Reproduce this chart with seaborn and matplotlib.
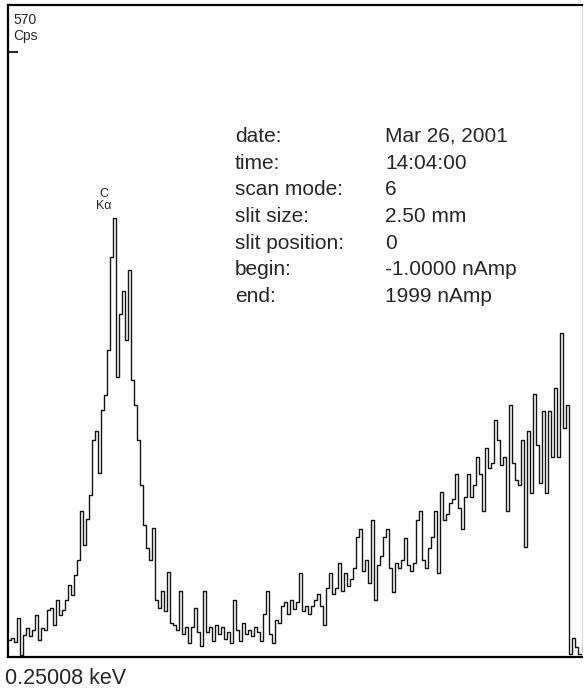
import matplotlib
matplotlib.use("Agg")
import matplotlib.pyplot as plt
import numpy as np
import pandas as pd
import seaborn as sns

# ---- data (counts per channel, Cps) ----
counts = [
    15, 17, 13, 34, 2, 19, 25, 18, 24, 37,
    15, 25, 24, 41, 43, 28, 50, 37, 41, 50,
    63, 54, 72, 85, 128, 98, 121, 142, 190, 198,
    161, 216, 229, 268, 350, 384, 245, 300, 320, 277,
    338, 242, 220, 190, 150, 115, 95, 85, 113, 50,
    43, 58, 40, 74, 30, 28, 24, 58, 20, 26,
    12, 26, 43, 22, 10, 58, 22, 26, 14, 28,
    20, 26, 16, 22, 12, 50, 24, 14, 30, 20,
    24, 18, 26, 22, 14, 38, 58, 20, 12, 32,
    30, 45, 48, 38, 50, 42, 48, 73, 40, 45,
    38, 45, 50, 55, 45, 28, 60, 73, 55, 60,
    82, 58, 73, 62, 68, 78, 105, 112, 75, 85,
    65, 120, 50, 80, 88, 105, 112, 78, 57, 82,
    78, 85, 104, 80, 75, 82, 120, 128, 85, 78,
    95, 105, 128, 73, 144, 120, 125, 135, 138, 160,
    130, 112, 140, 160, 140, 150, 175, 160, 128, 183,
    165, 170, 207, 190, 168, 175, 128, 220, 170, 155,
    150, 190, 96, 198, 143, 230, 185, 152, 215, 143,
    215, 175, 235, 175, 283, 200, 220, 3, 17, 9,
    3,
]
y_max = 570
y_unit = "Cps"
start_energy = "0.25008 keV"
peak_label = "C\nKα"
info_keys = ["date:", "time:", "scan mode:", "slit size:", "slit position:", "begin:", "end:"]
info_vals = ["Mar 26, 2001", "14:04:00", "6", "2.50 mm", "0", "-1.0000 nAmp", "1999 nAmp"]

channels = list(range(len(counts)))
df = pd.DataFrame({"channel": channels + [len(counts)],
                   "cps": counts + [counts[-1]]})

sns.set_theme(style="white")
plt.rcParams["font.family"] = ["Liberation Sans", "DejaVu Sans"]

W, H = 584, 695
fig = plt.figure(figsize=(W / 100, H / 100), dpi=100)
fig.patch.set_facecolor("white")
ax = fig.add_axes([8 / W, 1 - 657 / H, (582 - 8) / W, (657 - 5) / H])

sns.lineplot(data=df, x="channel", y="cps", drawstyle="steps-post",
             color="#141414", lw=1.0, ax=ax, estimator=None)

ax.set_xlim(0, (582 - 8) / 3)
ax.set_ylim(0, y_max)
ax.set_xlabel("")
ax.set_ylabel("")
ax.set_xticks([])
ax.set_yticks([529])
ax.set_yticklabels([""])
ax.tick_params(axis="y", left=True, direction="in", length=7, width=1.2, color="black")

for side in ["left", "top", "bottom"]:
    ax.spines[side].set_color("black")
    ax.spines[side].set_linewidth(1.6)
ax.spines["right"].set_color("#cfcfcf")
ax.spines["right"].set_linewidth(0.6)

def fx(x):
    return x / W

def fy(y):
    return 1 - y / H

fig.text(fx(13), fy(20), str(y_max), fontsize=10, ha="left", va="center")
fig.text(fx(13), fy(36), y_unit, fontsize=10, ha="left", va="center")

fig.text(fx(104), fy(200), peak_label, fontsize=9, ha="center", va="center",
         linespacing=0.9)

base = 142
step = 26.7
for i, (k, v) in enumerate(zip(info_keys, info_vals)):
    yb = base + i * step
    fig.text(fx(235), fy(yb), k, fontsize=15, ha="left", va="baseline")
    fig.text(fx(385), fy(yb), v, fontsize=15, ha="left", va="baseline")

fig.text(fx(5), fy(684), start_energy, fontsize=15.5, ha="left", va="baseline")

fig.savefig("out.png", dpi=100)
